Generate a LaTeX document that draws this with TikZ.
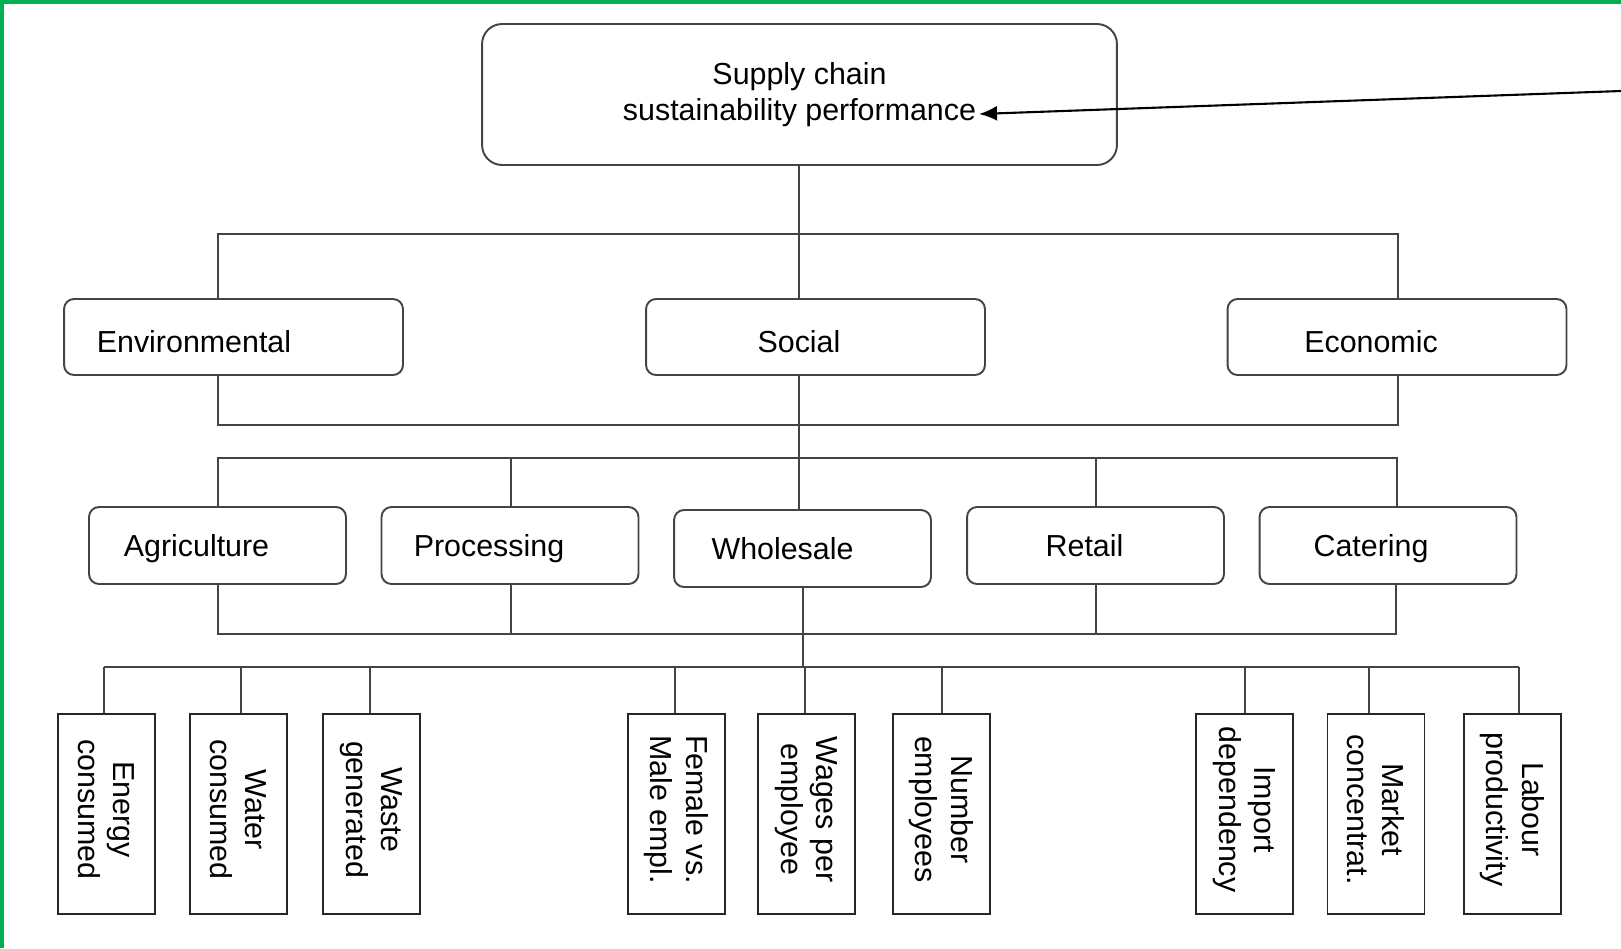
\documentclass[tikz,border=0pt]{standalone}
\usepackage{fontspec}
\setmainfont{Liberation Sans}
\usetikzlibrary{arrows.meta}
\usetikzlibrary{positioning}

\definecolor{frameGreen}{RGB}{0,176,80}
\definecolor{lineGray}{RGB}{68,68,68}
\newcommand{\tailpad}{\hspace*{0.18cm}}

\begin{document}
\begin{tikzpicture}[x=0.02cm,y=-0.02cm,
  font=\fontsize{17.3}{20.2}\selectfont,
  wire/.style={draw=lineGray,line width=1pt},
  roundbox/.style={draw=lineGray,line width=1.1pt,rounded corners=0.2cm,inner sep=0pt},
  topbox/.style={roundbox,rounded corners=0.4cm,minimum width=12.7cm,minimum height=2.82cm,align=center},
  groupbox/.style={roundbox,minimum width=6.78cm,minimum height=1.52cm,text height=0.6cm,text depth=0pt},
  stagebox/.style={roundbox,minimum width=5.14cm,minimum height=1.54cm,text height=0.44cm,text depth=0pt},
  metricbox/.style={draw=black!85,line width=1.1pt,inner sep=0pt,rotate=-90,align=center,minimum width=4cm,minimum height=1.94cm}]
\useasboundingbox (0,0) rectangle (1621,948);
\fill[frameGreen] (0,0) rectangle (1621,3.5);
\fill[frameGreen] (0,0) rectangle (3.5,948);

\node[topbox] (top) at (799.5,94.5) {Supply chain\\sustainability performance};

\node[groupbox] (env) at (233.5,337) {Environmental\hspace*{1.58cm}};
\node[groupbox] (soc) at (815.5,337) {Social\hspace*{0.66cm}};
\node[groupbox] (eco) at (1397,337) {Economic\hspace*{1.04cm}};

\node[stagebox] (agr) at (217.5,545.5) {Agriculture\hspace*{0.84cm}};
\node[stagebox] (pro) at (510,545.5) {Processing\hspace*{0.84cm}};
\node[stagebox] (who) at (802.5,548.5) {Wholesale\hspace*{0.8cm}};
\node[stagebox] (ret) at (1095.5,545.5) {Retail\hspace*{0.44cm}};
\node[stagebox] (cat) at (1388,545.5) {Catering\hspace*{0.68cm}};

\node[metricbox] (en) at (106.5,814) {Energy\tailpad\\consumed\tailpad};
\node[metricbox] (wa) at (238.5,814) {Water\tailpad\\consumed\tailpad};
\node[metricbox] (ws) at (371.5,814) {Waste\tailpad\\generated\tailpad};
\node[metricbox] (fe) at (676.5,814) {Female vs.\tailpad\\Male empl.\tailpad};
\node[metricbox] (wg) at (806.5,814) {Wages per\tailpad\\employee\tailpad};
\node[metricbox] (nu) at (941.5,814) {Number\tailpad\\employees\tailpad};
\node[metricbox] (im) at (1244.5,814) {Import\tailpad\\dependency\tailpad};
\node[metricbox] (mk) at (1376,814) {Market\tailpad\\concentrat.\tailpad};
\node[metricbox] (lb) at (1512.5,814) {Labour\tailpad\\productivity\tailpad};

\coordinate (src) at (1621,91);
\coordinate (perf) at (979,114);
\draw[line width=1.2pt,-{Latex[length=0.36cm,width=0.3cm]}] (src) -- (perf);

\coordinate (b1) at (799,234);
\coordinate (b3) at (799,458);
\draw[wire] (top.south -| b1) -- (b1);
\draw[wire] (env.north -| 218,0) -- (218,234) -- (1398,234) -- (eco.north -| 1398,0);
\draw[wire] (b1) -- (soc.north -| b1);
\draw[wire] (env.south -| 218,0) -- (218,425) -- (1398,425) -- (eco.south -| 1398,0);
\draw[wire] (soc.south -| b3) -- (b3);

\draw[wire] (agr.north -| 218,0) -- (218,458) -- (1397,458) -- (cat.north -| 1397,0);
\foreach \n/\x in {pro/511,who/799,ret/1096}
  \draw[wire] (\x,458) -- (\n.north -| \x,0);

\draw[wire] (agr.south -| 218,0) -- (218,634) -- (1396,634) -- (cat.south -| 1396,0);
\foreach \n/\x in {pro/511,ret/1096}
  \draw[wire] (\x,634) -- (\n.south -| \x,0);
\draw[wire] (who.south -| 803,0) -- (803,667);

\draw[wire] (104,667) -- (1519,667);
\foreach \n/\x in {en/104,wa/241,ws/370,fe/675,wg/805,nu/942,im/1245,mk/1369,lb/1519}
  \draw[wire] (\x,667) -- (\n.west -| \x,0);
\end{tikzpicture}
\end{document}
